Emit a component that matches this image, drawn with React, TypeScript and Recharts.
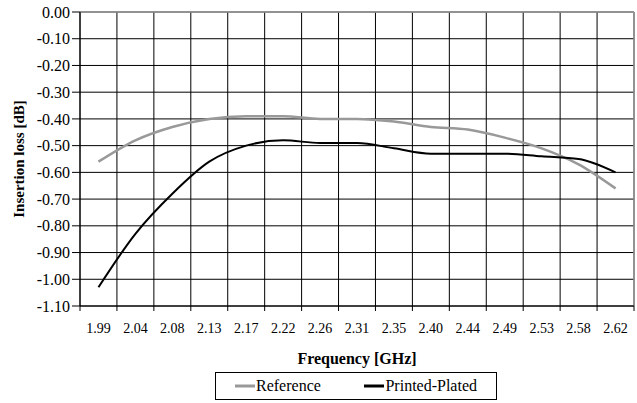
import React from "react";
import { CartesianGrid, Label, Legend, Line, LineChart, ReferenceLine, XAxis, YAxis } from "recharts";

const frequencies = ["1.99", "2.04", "2.08", "2.13", "2.17", "2.22", "2.26", "2.31", "2.35", "2.40", "2.44", "2.49", "2.53", "2.58", "2.62"];
const referenceLoss = [-0.56, -0.48, -0.43, -0.4, -0.39, -0.39, -0.4, -0.4, -0.41, -0.43, -0.44, -0.47, -0.51, -0.57, -0.66];
const printedPlatedLoss = [-1.03, -0.83, -0.68, -0.56, -0.5, -0.48, -0.49, -0.49, -0.51, -0.53, -0.53, -0.53, -0.54, -0.55, -0.6];
const yTicks = [0, -0.1, -0.2, -0.3, -0.4, -0.5, -0.6, -0.7, -0.8, -0.9, -1.0, -1.1];
const seriesOrder = ["Reference", "Printed-Plated"];

const FONT = "'Liberation Serif', 'DejaVu Serif', serif";

const data = frequencies.map((f, i) => ({
  x: i,
  freq: f,
  reference: referenceLoss[i],
  printed: printedPlatedLoss[i],
}));

// category centres carry the labels, category edges carry the grid and tick marks
const centreTicks = frequencies.map((_, i) => i);
const edgeTicks = [...frequencies.map((_, i) => i - 0.5), frequencies.length - 0.5];
const xDomain = [-0.5, frequencies.length - 0.5];

const LegendBox = ({ payload }: any) => {
  const items = [...(payload || [])].sort(
    (a: any, b: any) => seriesOrder.indexOf(a.value) - seriesOrder.indexOf(b.value)
  );
  return (
    <div
      style={{
        border: "1px solid #000",
        height: 28,
        display: "flex",
        alignItems: "center",
        justifyContent: "space-between",
        fontFamily: FONT,
        fontSize: 16,
        color: "#000",
        boxSizing: "border-box",
        padding: "0 19px",
      }}
    >
      {items.map((p: any) => (
        <span key={p.value} style={{ display: "flex", alignItems: "center" }}>
          <svg width={20} height={6} style={{ marginRight: 1 }}>
            <line x1={0} y1={3} x2={20} y2={3} stroke={p.color} strokeWidth={3} />
          </svg>
          {p.value}
        </span>
      ))}
    </div>
  );
};

const NoTick = () => <g />;

export default function App() {
  return (
    <div style={{ position: "absolute", left: 0, top: 0, background: "#fff" }}>
      <LineChart width={637} height={403} data={data} margin={{ top: 12, right: 3, bottom: 37, left: 0 }}>
        <XAxis
          xAxisId="labels"
          type="number"
          dataKey="x"
          domain={xDomain}
          ticks={centreTicks}
          tickFormatter={(v: number) => frequencies[v]}
          interval={0}
          height={59}
          axisLine={false}
          tickLine={false}
          tickSize={6}
          tickMargin={10}
          tick={{ fill: "#000", fontFamily: FONT, fontSize: 14 }}
        >
          <Label
            value="Frequency [GHz]"
            position="insideBottom"
            offset={2}
            style={{ fontFamily: FONT, fontSize: 16, fontWeight: "bold", fill: "#000" }}
          />
        </XAxis>
        <XAxis
          type="number"
          dataKey="x"
          domain={xDomain}
          ticks={edgeTicks}
          interval={0}
          tick={<NoTick />}
          height={1}
          tickSize={5}
          axisLine={{ stroke: "#000" }}
          tickLine={{ stroke: "#000" }}
        />
        <YAxis
          type="number"
          domain={[-1.1, 0]}
          ticks={yTicks}
          interval={0}
          width={80}
          tickFormatter={(v: number) => v.toFixed(2)}
          axisLine={{ stroke: "#000" }}
          tickLine={{ stroke: "#000" }}
          tickSize={8}
          tickMargin={2}
          tick={{ fill: "#000", fontFamily: FONT, fontSize: 16 }}
        >
          <Label
            value="Insertion loss [dB]"
            angle={-90}
            position="insideLeft"
            offset={19}
            style={{ textAnchor: "middle", fontFamily: FONT, fontSize: 15, fontWeight: "bold", fill: "#000" }}
          />
        </YAxis>
        <CartesianGrid stroke="#000" strokeWidth={1} />
        <ReferenceLine y={0} stroke="#999" strokeWidth={1.5} />
        <ReferenceLine x={frequencies.length - 0.5} stroke="#999" strokeWidth={1.5} />
        <Line
          name="Reference"
          dataKey="reference"
          type="monotone"
          stroke="#999999"
          strokeWidth={2.5}
          dot={false}
          isAnimationActive={false}
        />
        <Line
          name="Printed-Plated"
          dataKey="printed"
          type="monotone"
          stroke="#000000"
          strokeWidth={2}
          dot={false}
          isAnimationActive={false}
        />
        <Legend
          verticalAlign="middle"
          align="center"
          content={<LegendBox />}
          wrapperStyle={{ left: 215, top: 372, width: 282 }}
        />
      </LineChart>
    </div>
  );
}
